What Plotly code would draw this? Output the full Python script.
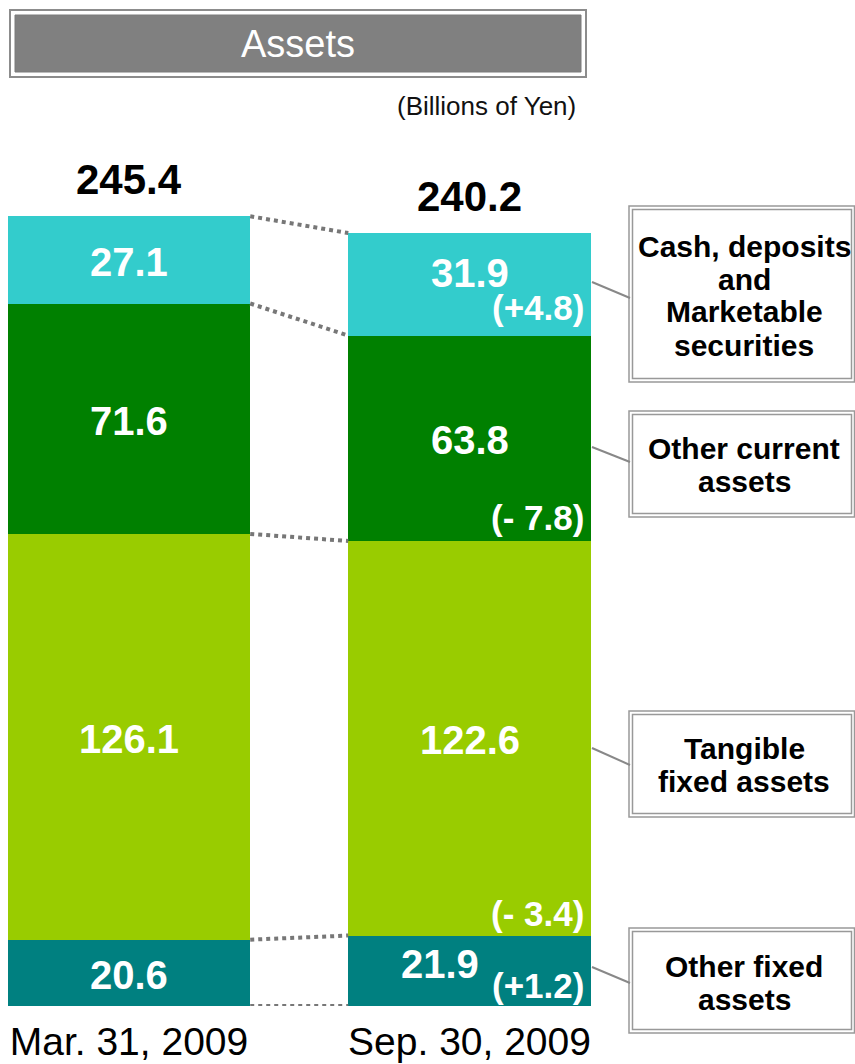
import plotly.graph_objects as go

# ---------------- data ----------------
categories = ["Mar. 31, 2009", "Sep. 30, 2009"]
series_names = ["Other fixed assets", "Tangible fixed assets", "Other current assets",
                "Cash, deposits and Marketable securities"]
other_fixed = [20.6, 21.9]
tangible_fixed = [126.1, 122.6]
other_current = [71.6, 63.8]
cash_securities = [27.1, 31.9]
totals = [245.4, 240.2]
changes = ["(+1.2)", "(- 3.4)", "(- 7.8)", "(+4.8)"]  # bottom -> top, second date
legend_lines = [["Other fixed", "assets"],
                ["Tangible", "fixed assets"],
                ["Other current", "assets"],
                ["Cash, deposits", "and", "Marketable", "securities"]]
title_text = "Assets"
unit_text = "(Billions of Yen)"

series = [other_fixed, tangible_fixed, other_current, cash_securities]
colors = ["#008080", "#99CC00", "#008000", "#33CCCC"]

# ---------------- geometry helpers ----------------
W, H = 855, 1064
AXIS_Y = 1006               # bar baseline, page px
PH = AXIS_Y                 # plot height in figure px
B = H - PH                  # bottom margin (category labels)
SCALE = 3.218               # px per unit
BAR_W = 0.712
x_pos = [0, 1]


def px(x):
    return x / W


def py(y):
    return (AXIS_Y - y) / PH


FONT = "Liberation Sans, Arial, sans-serif"

fig = go.Figure()

for name, vals, col in zip(series_names, series, colors):
    fig.add_trace(go.Bar(x=x_pos, y=vals, name=name, width=BAR_W,
                         marker=dict(color=col, line=dict(width=0)),
                         showlegend=False, hoverinfo="y"))

# cumulative boundaries
cums = []
for i in range(2):
    c = [0.0]
    for s in series:
        c.append(c[-1] + s[i])
    cums.append(c)

# dotted connectors between bars
for k in range(len(series) + 1):
    fig.add_trace(go.Scatter(x=[x_pos[0] + BAR_W / 2, x_pos[1] - BAR_W / 2],
                             y=[cums[0][k], cums[1][k]], mode="lines",
                             line=dict(color="#777777", width=4, dash="4px,4px"),
                             showlegend=False, hoverinfo="skip", cliponaxis=False))

annotations = []
# segment value labels
label_shift = {1: {0: (-30, 9), 3: (0, 13)}}
for i in range(2):
    for j, s in enumerate(series):
        mid = cums[i][j] + s[i] / 2
        xs, ys = label_shift.get(i, {}).get(j, (0, 0))
        annotations.append(dict(x=x_pos[i], y=mid, text=f"<b>{s[i]:.1f}</b>",
                                showarrow=False, xshift=xs, yshift=ys - 2,
                                xanchor="center", yanchor="middle",
                                font=dict(family=FONT, size=40, color="white")))
    annotations.append(dict(x=x_pos[i], y=totals[i], text=f"<b>{totals[i]:.1f}</b>",
                            showarrow=False, yshift=37, xanchor="center", yanchor="middle",
                            font=dict(family=FONT, size=42, color="black")))

# change labels on the second bar
chg_shift = [21, 22, 24, 28]
for j, t in enumerate(changes):
    annotations.append(dict(x=x_pos[1] + BAR_W / 2, y=cums[1][j], text=f"<b>{t}</b>",
                            showarrow=False, xanchor="right", yanchor="middle", xshift=-5,
                            yshift=chg_shift[j],
                            font=dict(family=FONT, size=35, color="white")))

shapes = []
# title box
shapes.append(dict(type="rect", xref="paper", yref="paper", x0=px(10), x1=px(586),
                   y0=py(77), y1=py(10), line=dict(color="#8C8C8C", width=2),
                   fillcolor="white", layer="below"))
shapes.append(dict(type="rect", xref="paper", yref="paper", x0=px(15), x1=px(581),
                   y0=py(72), y1=py(15), line=dict(color="#7A7A7A", width=1),
                   fillcolor="#808080", layer="below"))
annotations.append(dict(xref="paper", yref="paper", x=px(298), y=py(44), text=title_text,
                        showarrow=False, xanchor="center", yanchor="middle",
                        font=dict(family=FONT, size=38, color="white")))
annotations.append(dict(xref="paper", yref="paper", x=px(578), y=py(106), text=unit_text,
                        showarrow=False, xanchor="right", yanchor="middle",
                        font=dict(family=FONT, size=26, color="#111111")))

# legend boxes (bottom -> top)
boxes = [(928, 1033), (711, 817), (411, 517), (206, 382)]
conn = [(967, 983), (748, 765), (447, 462), (282, 298)]
line_y0 = [966, 748, 448, 246]
for (y0, y1), (ca, cb), lines, ly in zip(boxes, conn, legend_lines, line_y0):
    shapes.append(dict(type="rect", xref="paper", yref="paper", x0=px(629), x1=px(854.5),
                       y0=py(y1), y1=py(y0), line=dict(color="#999999", width=1.5),
                       fillcolor="white"))
    shapes.append(dict(type="rect", xref="paper", yref="paper", x0=px(632.5), x1=px(851.5),
                       y0=py(y1 - 3.5), y1=py(y0 + 3.5), line=dict(color="#999999", width=1.5)))
    shapes.append(dict(type="line", xref="paper", yref="paper", x0=px(592), x1=px(630),
                       y0=py(ca), y1=py(cb), line=dict(color="#888888", width=2)))
    for n, t in enumerate(lines):
        annotations.append(dict(xref="paper", yref="paper", x=px(744), y=py(ly + 33 * n),
                                text=f"<b>{t}</b>", showarrow=False,
                                xanchor="center", yanchor="middle",
                                font=dict(family=FONT, size=30, color="black")))

x_lo = -129 / 340.5
x_hi = 1 + (855 - 469.5) / 340.5

fig.update_layout(
    width=W, height=H, margin=dict(l=0, r=0, t=0, b=B, pad=0),
    paper_bgcolor="white", plot_bgcolor="white",
    barmode="stack", showlegend=False,
    xaxis=dict(range=[x_lo, x_hi], tickvals=x_pos, ticktext=categories,
               showgrid=False, zeroline=False, showline=False, ticks="",
               ticklabelstandoff=9,
               tickfont=dict(family=FONT, size=39, color="black"), fixedrange=True),
    yaxis=dict(range=[0, PH / SCALE], visible=False, fixedrange=True),
    shapes=shapes, annotations=annotations,
)

page_reset = ("document.body.style.margin='0';document.body.style.padding='0';"
              "document.documentElement.style.overflow='hidden';")
fig.write_html("out.html", post_script=page_reset,
               config={"displayModeBar": False, "staticPlot": True})
